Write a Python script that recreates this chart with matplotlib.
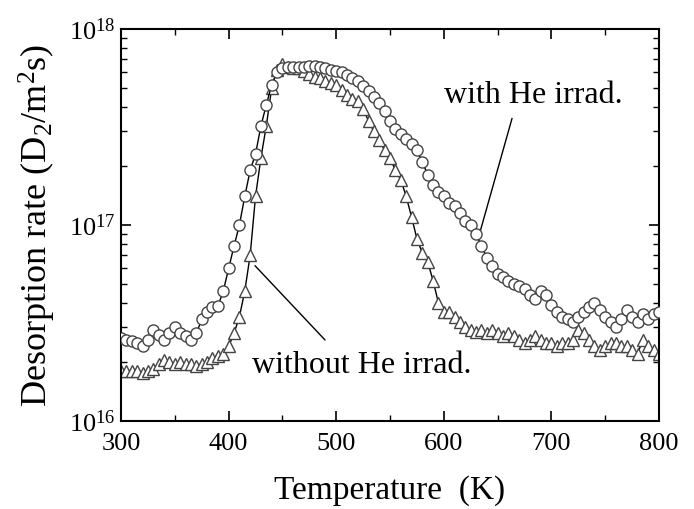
import matplotlib.pyplot as plt
from matplotlib.ticker import MultipleLocator, LogLocator, NullFormatter, FixedLocator
import numpy as np

plt.rcParams['font.family'] = 'Liberation Serif'
plt.rcParams['mathtext.fontset'] = 'custom'
plt.rcParams['mathtext.rm'] = 'Liberation Serif'
plt.rcParams['mathtext.it'] = 'Liberation Serif:italic'

# temperature grid (K)
temp = np.arange(300, 805, 5)

# with He irradiation, units of 1e16 D2/m2s
with_he = [2.65, 2.6, 2.55, 2.5, 2.4, 2.6, 2.9, 2.75, 2.6, 2.8,
           3.0, 2.8, 2.7, 2.6, 2.8, 3.3, 3.6, 3.8, 3.85, 4.6,
           6.0, 7.8, 10.0, 14, 19, 23, 32, 41, 52, 60,
           63, 64, 64, 64, 64, 65, 65, 64, 63, 62,
           61, 60, 58, 56, 54, 51, 48, 45, 42, 38,
           34, 31, 29, 27.5, 26, 24, 21, 18, 16, 14.7,
           14, 13, 12.5, 11.5, 10.5, 10, 9, 7.8, 6.8, 6.2,
           5.6, 5.4, 5.2, 5.0, 4.9, 4.7, 4.4, 4.2, 4.6, 4.4,
           3.9, 3.6, 3.4, 3.3, 3.2, 3.4, 3.6, 3.8, 4.0, 3.7,
           3.4, 3.2, 3.0, 3.3, 3.7, 3.4, 3.2, 3.5, 3.3, 3.5,
           3.6]

# without He irradiation
without_he = [1.8, 1.8, 1.8, 1.8, 1.75, 1.8, 1.85, 1.95, 2.05, 2.0,
              1.95, 2.0, 1.95, 1.95, 1.9, 1.95, 2.0, 2.1, 2.15, 2.2,
              2.4, 2.8, 3.4, 4.6, 7.0, 14, 22, 32, 50, 62,
              66, 64, 63, 63, 61, 59, 57, 56, 54, 53,
              52, 49, 46, 44, 43, 39, 34, 30, 27, 24,
              22, 19, 17, 14, 11, 8.5, 7.2, 6.5, 5.2, 4.0,
              3.6, 3.6, 3.4, 3.2, 3.0, 2.9, 2.85, 2.9, 2.8, 2.9,
              2.8, 2.7, 2.8, 2.7, 2.6, 2.5, 2.6, 2.7, 2.6, 2.5,
              2.5, 2.4, 2.5, 2.5, 2.6, 2.9, 2.8, 2.6, 2.4, 2.3,
              2.4, 2.5, 2.5, 2.4, 2.4, 2.3, 2.2, 2.6, 2.4, 2.3,
              2.2]

w = np.array(with_he) * 1e16
wo = np.array(without_he) * 1e16

fig = plt.figure(figsize=(6.94, 5.09), dpi=100)
ax = fig.add_axes([0.1744, 0.1729, 0.7752, 0.7701])

ax.plot(temp, wo, '-', color='black', lw=1.0, zorder=1)
ax.plot(temp, wo, '^', ms=8, mfc='white', mec='#444444', mew=1.0, ls='none', zorder=2)
ax.plot(temp, w, '-', color='black', lw=1.0, zorder=3)
ax.plot(temp, w, 'o', ms=8, mfc='white', mec='#444444', mew=1.0, ls='none', zorder=4)

ax.set_yscale('log')
ax.set_xlim(300, 800)
ax.set_ylim(1e16, 1e18)

ax.xaxis.set_major_locator(MultipleLocator(100))
ax.xaxis.set_minor_locator(MultipleLocator(50))
ax.yaxis.set_major_locator(FixedLocator([1e16, 1e17, 1e18]))
ax.yaxis.set_minor_locator(LogLocator(base=10, subs=np.arange(2, 10)))
ax.yaxis.set_minor_formatter(NullFormatter())
ax.set_yticklabels([r'$10^{16}$', r'$10^{17}$', r'$10^{18}$'])

ax.tick_params(which='both', direction='in', top=True, right=True, labelsize=19)
ax.tick_params(axis='x', pad=9)
ax.tick_params(axis='y', pad=4)
ax.tick_params(which='major', length=7, width=1.2)
ax.tick_params(which='minor', length=4, width=1.0)
for s in ax.spines.values():
    s.set_linewidth(1.5)

ax.set_xlabel('Temperature  (K)', fontsize=24, labelpad=14)
ax.set_ylabel(r'Desorption rate (D$_2$/m$^2$s)', fontsize=26, labelpad=8)

# labels and pointer lines
ax.text(683, 4.6e17, 'with He irrad.', fontsize=23, ha='center', va='center')
ax.annotate('', xy=(633.6, 9.2e16), xytext=(663.4, 3.5e17),
            arrowprops=dict(arrowstyle='-', color='black', lw=1.0, shrinkA=0, shrinkB=0))
ax.text(421.7, 1.93e16, 'without He irrad.', fontsize=23, ha='left', va='center')
ax.annotate('', xy=(424.5, 6.2e16), xytext=(489.6, 2.59e16),
            arrowprops=dict(arrowstyle='-', color='black', lw=1.0, shrinkA=0, shrinkB=0))

fig.savefig('out.png', dpi=100)
